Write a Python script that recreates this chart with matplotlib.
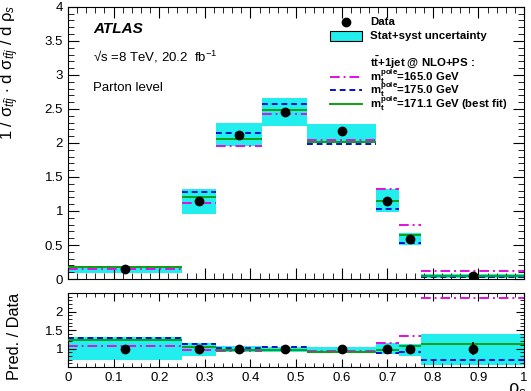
import numpy as np
import matplotlib.pyplot as plt
from matplotlib.lines import Line2D
from matplotlib.patches import Rectangle
from matplotlib.ticker import MultipleLocator, FormatStrFormatter

# bin edges in rho_s
edges = [0.0, 0.25, 0.325, 0.425, 0.525, 0.675, 0.725, 0.775, 1.0]
centers = [0.125, 0.2875, 0.375, 0.475, 0.6, 0.7, 0.75, 0.8875]

# normalised cross section
data = [0.14, 1.15, 2.12, 2.46, 2.17, 1.15, 0.59, 0.04]
data_err = [0.02, 0.05, 0.05, 0.05, 0.04, 0.05, 0.03, 0.01]
band_lo = [0.09, 0.96, 1.95, 2.25, 2.00, 0.98, 0.50, 0.01]
band_hi = [0.19, 1.32, 2.29, 2.66, 2.28, 1.32, 0.68, 0.07]
m165 = [0.15, 1.12, 1.95, 2.42, 2.05, 1.32, 0.79, 0.12]
m175 = [0.18, 1.28, 2.15, 2.57, 1.99, 1.03, 0.53, 0.03]
m171 = [0.17, 1.20, 2.06, 2.48, 2.02, 1.14, 0.65, 0.05]

# ratio pred / data
r_data_err = [0.02, 0.03, 0.02, 0.02, 0.02, 0.04, 0.05, 0.17]
r_lo = [0.70, 0.81, 0.91, 0.91, 0.93, 0.84, 0.81, 0.56]
r_hi = [1.31, 1.14, 1.07, 1.05, 1.05, 1.15, 1.12, 1.38]
r165 = [1.06, 0.95, 0.92, 0.95, 0.92, 1.14, 1.34, 2.38]
r175 = [1.29, 1.11, 1.01, 1.03, 0.90, 0.89, 0.91, 0.69]
r171 = [1.23, 1.04, 0.96, 0.97, 0.91, 0.97, 1.08, 1.13]

CYAN = '#22eeee'
MAG = '#e010e0'
BLUE = '#0010d0'
GREEN = '#10a010'
DASHDOT = (0, (5, 2, 1, 2))
DASH = (0, (3, 2))

plt.rcParams['font.family'] = ['Liberation Sans', 'DejaVu Sans']
plt.rcParams['mathtext.fontset'] = 'custom'
plt.rcParams['mathtext.rm'] = 'Liberation Sans'
plt.rcParams['mathtext.it'] = 'Liberation Sans:italic'
plt.rcParams['mathtext.bf'] = 'Liberation Sans:bold'

fig = plt.figure(figsize=(5.31, 3.91), dpi=100)
ax = fig.add_axes([0.128, 0.2864, 0.859, 0.696])
axr = fig.add_axes([0.128, 0.0614, 0.859, 0.189])

lo = np.array(edges[:-1])
hi = np.array(edges[1:])
w = hi - lo


def draw_panel(a, vals_lo, vals_hi, p165, p175, p171, yv, yerr):
    a.bar(lo, np.array(vals_hi) - np.array(vals_lo), width=w, bottom=vals_lo,
          align='edge', color=CYAN, linewidth=0, zorder=1)
    a.hlines(p165, lo, hi, colors=MAG, linestyles=DASHDOT, lw=1.4, zorder=2)
    a.hlines(p175, lo, hi, colors=BLUE, linestyles=DASH, lw=1.4, zorder=2)
    a.hlines(p171, lo, hi, colors=GREEN, linestyles='-', lw=1.4, zorder=3)
    a.errorbar(centers, yv, yerr=yerr, fmt='o', color='black', ms=6,
               elinewidth=1.2, capsize=0, zorder=4)
    a.set_xlim(0, 1)
    a.xaxis.set_major_locator(MultipleLocator(0.1))
    a.xaxis.set_minor_locator(MultipleLocator(0.02))
    a.xaxis.set_major_formatter(FormatStrFormatter('%g'))
    a.yaxis.set_major_formatter(FormatStrFormatter('%g'))
    a.tick_params(which='both', direction='in', top=True, right=True, labelsize=9.5)
    a.tick_params(which='major', length=8)
    a.tick_params(which='minor', length=4)


draw_panel(ax, band_lo, band_hi, m165, m175, m171, data, data_err)
ax.set_ylim(0, 4)
ax.yaxis.set_major_locator(MultipleLocator(0.5))
ax.yaxis.set_minor_locator(MultipleLocator(0.1))
ax.set_xticklabels([])

draw_panel(axr, r_lo, r_hi, r165, r175, r171, [1.0] * 8, r_data_err)
axr.set_ylim(0.5, 2.5)
axr.yaxis.set_minor_locator(MultipleLocator(0.1))
axr.set_yticks([1, 1.5, 2])
axr.tick_params(which='major', length=6)
axr.tick_params(which='minor', length=3)

# axis titles, top aligned like the original
fig.text(0.019, 0.988, r'1 / σ$_{t\bar{t}j}$ $\cdot$ d σ$_{t\bar{t}j}$ / d ρ$_{s}$',
         fontsize=12, rotation=90, ha='center', va='top')
fig.text(0.028, 0.25, 'Pred. / Data', fontsize=11.8, rotation=90,
         ha='center', va='top')
fig.text(0.975, 0.025, r'ρ$_{s}$', fontsize=13, ha='center', va='top')

ax.text(0.055, 0.905, 'ATLAS', transform=ax.transAxes, fontsize=11,
        fontweight='bold', style='italic')
ax.text(0.055, 0.80, '√s =8 TeV, 20.2  fb$^{-1}$', transform=ax.transAxes,
        fontsize=9.5)
ax.text(0.055, 0.69, 'Parton level', transform=ax.transAxes, fontsize=9.5)

# legend drawn by hand to match row spacing
tx = 0.662
hx0, hx1 = 0.575, 0.645
fs = 8.2
ax.plot([(hx0 + hx1) / 2], [0.945], 'o', color='black', ms=6,
        transform=ax.transAxes, clip_on=False)
ax.text(tx, 0.945, 'Data', transform=ax.transAxes, fontsize=fs,
        fontweight='bold', va='center')
ax.add_patch(Rectangle((hx0, 0.875), hx1 - hx0, 0.037, transform=ax.transAxes,
                       facecolor=CYAN, edgecolor='black', lw=0.8))
ax.text(tx, 0.893, 'Stat+syst uncertainty', transform=ax.transAxes, fontsize=fs,
        fontweight='bold', va='center')
ax.text(tx, 0.798, r'$\mathbf{t\bar{t}}$+1jet @ NLO+PS :', transform=ax.transAxes,
        fontsize=fs, fontweight='bold', va='center')
rows = [
    (0.743, MAG, DASHDOT, '=165.0 GeV'),
    (0.695, BLUE, DASH, '=175.0 GeV'),
    (0.643, GREEN, '-', '=171.1 GeV (best fit)'),
]
for yy, col, ls, lab in rows:
    ax.add_line(Line2D([hx0, hx1], [yy, yy], color=col, ls=ls, lw=1.4,
                       transform=ax.transAxes))
    ax.text(tx, yy, r'$\mathbf{m_t^{pole}}$' + lab, transform=ax.transAxes,
            fontsize=fs, fontweight='bold', va='center')

fig.savefig('out.png', dpi=100)
